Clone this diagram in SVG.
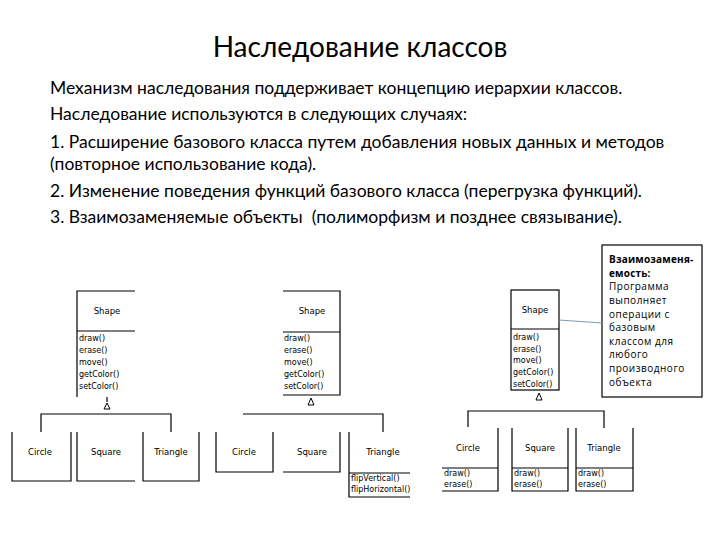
<svg xmlns="http://www.w3.org/2000/svg" width="720" height="540" viewBox="0 0 720 540">
<style>
.title{font-family:Lato,"Noto Sans",sans-serif;font-size:28px;fill:#000}
.body{font-family:Lato,"Noto Sans",sans-serif;font-size:17.5px;fill:#000}
.ln{stroke:#000;stroke-width:1.2;fill:none}
.cls{font-family:"DejaVu Sans",sans-serif;font-size:8.5px;fill:#000;text-anchor:middle}
.m{font-family:"DejaVu Sans",sans-serif;font-size:8px;fill:#000}
.note{font-family:"Open Sans","Noto Sans",sans-serif;font-size:10px;letter-spacing:0.5px;fill:#000}
.nb{font-weight:bold;letter-spacing:0.2px}
.tri{stroke:#000;stroke-width:1;fill:#fff}
</style>
<rect width="720" height="540" fill="#fff"/>
<g id="text">
<text class="title" x="360" y="57" text-anchor="middle">Наследование классов</text>
<text class="body" x="50" y="94">Механизм наследования поддерживает концепцию иерархии классов.</text>
<text class="body" x="50" y="120">Наследование используются в следующих случаях:</text>
<text class="body" x="50" y="148">1. Расширение базового класса путем добавления новых данных и методов</text>
<text class="body" x="50" y="170">(повторное использование кода).</text>
<text class="body" x="50" y="197">2. Изменение поведения функций базового класса (перегрузка функций).</text>
<text class="body" x="50" y="223" xml:space="preserve">3. Взаимозаменяемые объекты  (полиморфизм и позднее связывание).</text>
</g>

<!-- Diagram 1 -->
<g id="d1-shape">
<path class="ln" d="M135,291 H77 V397 M77,331 H135"/>
<text class="cls" x="107" y="314">Shape</text>
<text class="m" x="79" y="341">draw()</text>
<text class="m" x="79" y="353">erase()</text>
<text class="m" x="79" y="365">move()</text>
<text class="m" x="79" y="377">getColor()</text>
<text class="m" x="79" y="389">setColor()</text>
</g>
<g id="d1-circle">
<path class="ln" d="M12,432 V481 H71 V432"/>
<text class="cls" x="40" y="455">Circle</text>
</g>
<g id="d1-square">
<path class="ln" d="M77,432 V481 H135"/>
<text class="cls" x="106" y="455">Square</text>
</g>
<g id="d1-triangle">
<path class="ln" d="M143,432 V481 H199 V432"/>
<text class="cls" x="171" y="455">Triangle</text>
</g>

<!-- Diagram 2 -->
<g id="d2-shape">
<path class="ln" d="M283,291 H340 V395 H283 M283,332 H340"/>
<text class="cls" x="312" y="314">Shape</text>
<text class="m" x="284" y="341">draw()</text>
<text class="m" x="284" y="353">erase()</text>
<text class="m" x="284" y="365">move()</text>
<text class="m" x="284" y="377">getColor()</text>
<text class="m" x="284" y="389">setColor()</text>
</g>
<g id="d2-circle">
<path class="ln" d="M216,432 V472 H273 V432"/>
<text class="cls" x="244" y="455">Circle</text>
</g>
<g id="d2-square">
<path class="ln" d="M283,472 H340 V432"/>
<text class="cls" x="312" y="455">Square</text>
</g>
<g id="d2-triangle">
<path class="ln" d="M349,432 V497 H410 M349,473 H410"/>
<text class="cls" x="383" y="455">Triangle</text>
<text class="m" x="351" y="481">flipVertical()</text>
<text class="m" x="351" y="492">flipHorizontal()</text>
</g>

<!-- Diagram 3 -->
<g id="d3-shape">
<rect class="ln" x="511" y="290" width="48" height="100"/>
<path class="ln" d="M511,329 H559"/>
<text class="cls" x="535" y="313">Shape</text>
<text class="m" x="513" y="340">draw()</text>
<text class="m" x="513" y="352">erase()</text>
<text class="m" x="513" y="363">move()</text>
<text class="m" x="513" y="375">getColor()</text>
<text class="m" x="513" y="387">setColor()</text>
</g>
<g id="d3-circle">
<path class="ln" d="M498,428 V491 H442 M442,468 H498"/>
<text class="cls" x="468" y="451">Circle</text>
<text class="m" x="444" y="476">draw()</text>
<text class="m" x="444" y="487">erase()</text>
</g>
<g id="d3-square">
<path class="ln" d="M512,428 V491 H568 V428 M512,468 H568"/>
<text class="cls" x="540" y="451">Square</text>
<text class="m" x="514" y="476">draw()</text>
<text class="m" x="514" y="487">erase()</text>
</g>
<g id="d3-triangle">
<path class="ln" d="M576,428 V491 H633 V428 M576,468 H633"/>
<text class="cls" x="604" y="451">Triangle</text>
<text class="m" x="578" y="476">draw()</text>
<text class="m" x="578" y="487">erase()</text>
</g>
<g id="note">
<rect x="602" y="245" width="100" height="152" fill="#fff" stroke="#000" stroke-width="1.2"/>
<text class="note nb" x="609" y="263">Взаимозаменя-</text>
<text class="note nb" x="609" y="277">емость:</text>
<text class="note" x="609" y="290">Программа</text>
<text class="note" x="609" y="304">выполняет</text>
<text class="note" x="609" y="318">операции с</text>
<text class="note" x="609" y="331">базовым</text>
<text class="note" x="609" y="345">классом для</text>
<text class="note" x="609" y="358">любого</text>
<text class="note" x="609" y="372">производного</text>
<text class="note" x="609" y="386">объекта</text>
</g>

<g id="connectors">
<path class="ln" d="M41,432 V414 H171 V432"/>
<path class="ln" d="M107,397 V402"/>
<path class="tri" d="M107,403 L110,409 H104 Z"/>
<path class="ln" d="M243,414 H383 V432"/>
<path class="tri" d="M311,398 L314,405 H308 Z"/>
<path class="ln" d="M468,427 V411 H604 V428"/>
<path class="tri" d="M539,393 L542,400 H536 Z"/>
<path d="M559,320 L602,323" stroke="#7f9bb5" stroke-width="1.2" fill="none"/>
</g>
</svg>
